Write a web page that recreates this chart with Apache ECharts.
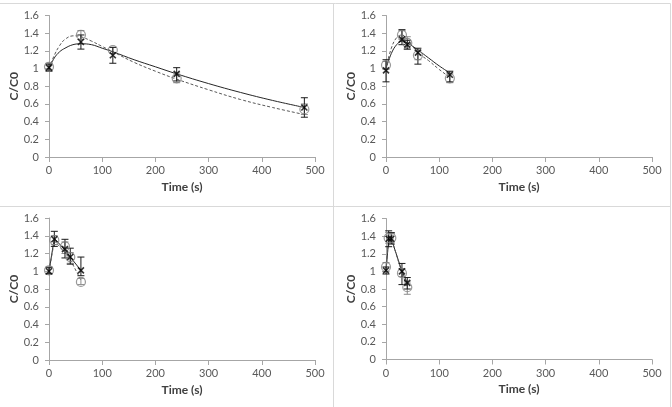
<!DOCTYPE html>
<html><head><meta charset="utf-8">
<script src="https://cdn.jsdelivr.net/npm/echarts@6/dist/echarts.min.js"></script>
<style>html,body{margin:0;padding:0;background:#fff}#c{width:672px;height:407px}</style>
</head><body><div id="c"></div>
<script>
// Panel 1
var p1CircT = [0, 60, 120, 240, 480];
var p1CircY = [1.02, 1.38, 1.21, 0.89, 0.54];
var p1CircLo = [0.98, 1.33, 1.17, 0.84, 0.48];
var p1CircHi = [1.06, 1.43, 1.24, 0.95, 0.60];
var p1CrossT = [0, 60, 120, 240, 480];
var p1CrossY = [1.01, 1.30, 1.15, 0.94, 0.56];
var p1CrossLo = [0.97, 1.22, 1.06, 0.86, 0.45];
var p1CrossHi = [1.05, 1.38, 1.24, 1.01, 0.67];
var p1SolidT = [0, 10, 20, 30, 45, 60, 80, 100, 120, 160, 200, 240, 300, 360, 420, 480];
var p1SolidY = [1.0, 1.12, 1.19, 1.23, 1.27, 1.28, 1.27, 1.23, 1.19, 1.10, 1.02, 0.94, 0.83, 0.73, 0.64, 0.56];
var p1DashT = [0, 10, 20, 30, 45, 60, 80, 100, 120, 160, 200, 240, 300, 360, 420, 480];
var p1DashY = [1.0, 1.15, 1.26, 1.33, 1.37, 1.36, 1.31, 1.25, 1.19, 1.07, 0.97, 0.88, 0.76, 0.65, 0.56, 0.48];
// Panel 2
var p2CircT = [0, 30, 40, 60, 120];
var p2CircY = [1.04, 1.38, 1.29, 1.15, 0.89];
var p2CircLo = [0.99, 1.33, 1.22, 1.10, 0.84];
var p2CircHi = [1.08, 1.43, 1.36, 1.21, 0.94];
var p2CrossT = [0, 30, 40, 60, 120];
var p2CrossY = [0.98, 1.33, 1.27, 1.18, 0.93];
var p2CrossLo = [0.85, 1.27, 1.22, 1.05, 0.85];
var p2CrossHi = [1.10, 1.44, 1.32, 1.23, 0.97];
var p2SolidT = [0, 10, 20, 30, 40, 60, 80, 100, 120];
var p2SolidY = [1.0, 1.17, 1.27, 1.31, 1.29, 1.21, 1.12, 1.03, 0.95];
var p2DashT = [0, 10, 20, 30, 40, 60, 80, 100, 120];
var p2DashY = [1.0, 1.23, 1.35, 1.38, 1.33, 1.18, 1.09, 0.99, 0.90];
// Panel 3
var p3CircT = [0, 10, 30, 40, 60];
var p3CircY = [1.01, 1.35, 1.28, 1.16, 0.88];
var p3CircLo = [0.97, 1.30, 1.20, 1.09, 0.85];
var p3CircHi = [1.05, 1.40, 1.33, 1.21, 0.92];
var p3CrossT = [0, 10, 30, 40, 60];
var p3CrossY = [1.0, 1.36, 1.25, 1.16, 1.01];
var p3CrossLo = [0.97, 1.28, 1.15, 1.08, 0.95];
var p3CrossHi = [1.04, 1.45, 1.36, 1.26, 1.16];
var p3SolidT = [0, 10, 30, 40, 60];
var p3SolidY = [1.0, 1.37, 1.24, 1.16, 1.01];
var p3DashT = [0, 10, 30, 40, 60];
var p3DashY = [1.0, 1.34, 1.22, 1.13, 0.90];
// Panel 4
var p4CircT = [0, 5, 10, 30, 40];
var p4CircY = [1.05, 1.38, 1.38, 0.98, 0.82];
var p4CircLo = [1.00, 1.32, 1.33, 0.94, 0.74];
var p4CircHi = [1.10, 1.44, 1.43, 1.03, 0.88];
var p4CrossT = [0, 5, 10, 30, 40];
var p4CrossY = [1.01, 1.37, 1.37, 1.00, 0.87];
var p4CrossLo = [0.97, 1.28, 1.31, 0.85, 0.80];
var p4CrossHi = [1.05, 1.46, 1.44, 1.09, 0.93];
var p4SolidT = [0, 5, 10, 30, 40];
var p4SolidY = [1.0, 1.36, 1.37, 1.00, 0.87];
var p4DashT = [0, 5, 10, 30, 40];
var p4DashY = [1.03, 1.36, 1.38, 0.98, 0.82];

var xTicks = [0, 100, 200, 300, 400, 500];
var yTicks = [0, 0.2, 0.4, 0.6, 0.8, 1, 1.2, 1.4, 1.6];

var panels = [
  {circT:p1CircT,circY:p1CircY,circLo:p1CircLo,circHi:p1CircHi,crossT:p1CrossT,crossY:p1CrossY,crossLo:p1CrossLo,crossHi:p1CrossHi,solidT:p1SolidT,solidY:p1SolidY,dashT:p1DashT,dashY:p1DashY,smooth:true},
  {circT:p2CircT,circY:p2CircY,circLo:p2CircLo,circHi:p2CircHi,crossT:p2CrossT,crossY:p2CrossY,crossLo:p2CrossLo,crossHi:p2CrossHi,solidT:p2SolidT,solidY:p2SolidY,dashT:p2DashT,dashY:p2DashY,smooth:true},
  {circT:p3CircT,circY:p3CircY,circLo:p3CircLo,circHi:p3CircHi,crossT:p3CrossT,crossY:p3CrossY,crossLo:p3CrossLo,crossHi:p3CrossHi,solidT:p3SolidT,solidY:p3SolidY,dashT:p3DashT,dashY:p3DashY,smooth:false},
  {circT:p4CircT,circY:p4CircY,circLo:p4CircLo,circHi:p4CircHi,crossT:p4CrossT,crossY:p4CrossY,crossLo:p4CrossLo,crossHi:p4CrossHi,solidT:p4SolidT,solidY:p4SolidY,dashT:p4DashT,dashY:p4DashY,smooth:false}
];

var gridPos = [
  {left:49, top:15.5, width:266, height:141.5},
  {left:386, top:15.5, width:266, height:141.5},
  {left:49, top:218, width:266, height:142},
  {left:386, top:218.5, width:266, height:141}
];

var font = 'Lato, "Open Sans", sans-serif';
var grids = [], xAxes = [], yAxes = [], series = [];

function zip(a, b) { return a.map(function (v, i) { return [v, b[i]]; }); }

function errSeries(idx, t, lo, hi, color) {
  return {
    type: 'custom', xAxisIndex: idx, yAxisIndex: idx, z: 3,
    data: t.map(function (v, i) { return [v, lo[i], hi[i]]; }),
    renderItem: function (params, api) {
      var x = api.value(0);
      var pLo = api.coord([x, api.value(1)]);
      var pHi = api.coord([x, api.value(2)]);
      var w = 3.5;
      var st = {stroke: color, lineWidth: 1};
      return {type: 'group', children: [
        {type: 'line', shape: {x1: pLo[0], y1: pLo[1], x2: pHi[0], y2: pHi[1]}, style: st},
        {type: 'line', shape: {x1: pLo[0]-w, y1: pLo[1], x2: pLo[0]+w, y2: pLo[1]}, style: st},
        {type: 'line', shape: {x1: pHi[0]-w, y1: pHi[1], x2: pHi[0]+w, y2: pHi[1]}, style: st}
      ]};
    }
  };
}

panels.forEach(function (p, i) {
  grids.push(gridPos[i]);
  xAxes.push({
    type: 'value', gridIndex: i, min: 0, max: 500, interval: 100,
    name: 'Time (s)', nameLocation: 'middle', nameGap: 24,
    nameTextStyle: {fontFamily: font, fontSize: 12, fontWeight: 'bold', color: '#404040'},
    axisLine: {lineStyle: {color: '#a6a6a6', width: 1}},
    axisTick: {show: true, inside: false, length: 5, lineStyle: {color: '#a6a6a6'}},
    axisLabel: {fontFamily: font, fontSize: 11, color: '#595959', margin: 8},
    splitLine: {show: false}
  });
  yAxes.push({
    type: 'value', gridIndex: i, min: 0, max: 1.6, interval: 0.2,
    name: 'C/C0', nameLocation: 'middle', nameGap: 28, nameRotate: 90,
    nameTextStyle: {fontFamily: font, fontSize: 12, fontWeight: 'bold', color: '#404040'},
    axisLine: {show: true, lineStyle: {color: '#a6a6a6', width: 1}},
    axisTick: {show: true, inside: false, length: 4, lineStyle: {color: '#a6a6a6'}},
    axisLabel: {fontFamily: font, fontSize: 11, color: '#595959', margin: 10,
      formatter: function (v) { return String(Math.round(v * 10) / 10); }},
    splitLine: {show: false}
  });
  series.push({
    type: 'line', xAxisIndex: i, yAxisIndex: i, data: zip(p.solidT, p.solidY),
    smooth: p.smooth ? 0.4 : false, showSymbol: false, z: 2,
    lineStyle: {color: '#262626', width: 1, type: 'solid'}
  });
  series.push({
    type: 'line', xAxisIndex: i, yAxisIndex: i, data: zip(p.dashT, p.dashY),
    smooth: p.smooth ? 0.4 : false, showSymbol: false, z: 2,
    lineStyle: {color: '#595959', width: 1, type: [3, 2]}
  });
  series.push(errSeries(i, p.circT, p.circLo, p.circHi, '#8c8c8c'));
  series.push(errSeries(i, p.crossT, p.crossLo, p.crossHi, '#1a1a1a'));
  series.push({
    type: 'scatter', xAxisIndex: i, yAxisIndex: i, data: zip(p.circT, p.circY), z: 4,
    symbol: 'circle', symbolSize: 9,
    itemStyle: {color: 'rgba(255,255,255,0)', borderColor: '#7f7f7f', borderWidth: 1.2}
  });
  series.push({
    type: 'scatter', xAxisIndex: i, yAxisIndex: i, data: zip(p.crossT, p.crossY), z: 5,
    symbol: 'path://M0,0L10,10M10,0L0,10', symbolSize: 6,
    itemStyle: {color: '#000', borderColor: '#000', borderWidth: 1.6}
  });
});

var bc = '#d9d9d9';
var chart = echarts.init(document.getElementById('c'), null, {renderer: 'canvas'});
chart.setOption({
  animation: false,
  backgroundColor: '#fff',
  grid: grids, xAxis: xAxes, yAxis: yAxes, series: series,
  graphic: [
    {type: 'line', shape: {x1: 0, y1: 3.5, x2: 670.5, y2: 3.5}, style: {stroke: bc, lineWidth: 1}, silent: true},
    {type: 'line', shape: {x1: 670.5, y1: 3.5, x2: 670.5, y2: 407}, style: {stroke: bc, lineWidth: 1}, silent: true},
    {type: 'line', shape: {x1: 333.5, y1: 3.5, x2: 333.5, y2: 407}, style: {stroke: bc, lineWidth: 1}, silent: true},
    {type: 'line', shape: {x1: 0, y1: 206.5, x2: 670.5, y2: 206.5}, style: {stroke: bc, lineWidth: 1}, silent: true}
  ]
});
</script></body></html>
